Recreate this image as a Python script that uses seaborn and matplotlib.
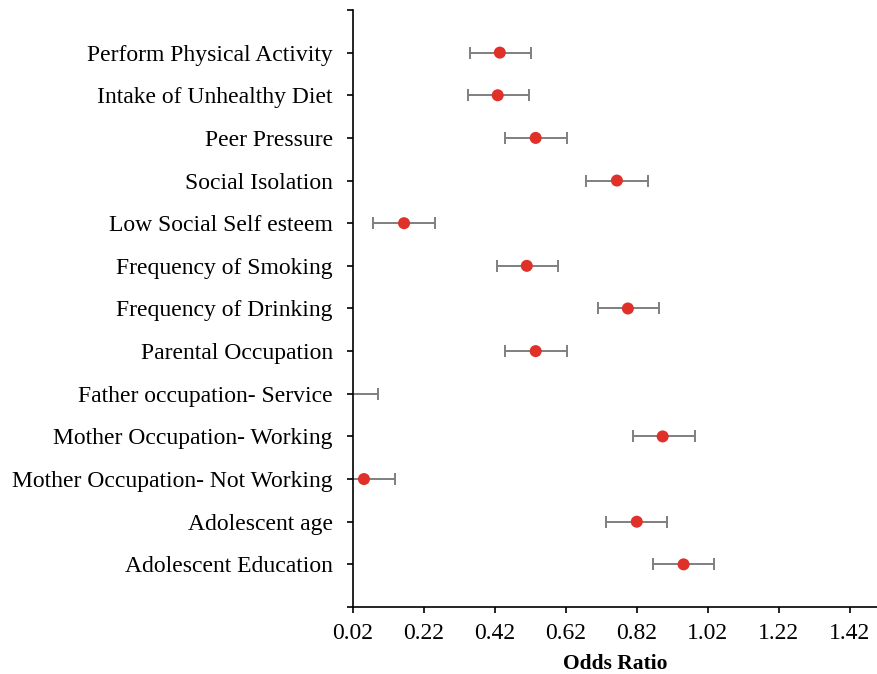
import matplotlib
matplotlib.use("Agg")
import matplotlib.pyplot as plt
import seaborn as sns
import pandas as pd

# Odds ratios with lower / upper confidence limits
factors = [
    "Perform Physical Activity",
    "Intake of Unhealthy Diet",
    "Peer Pressure",
    "Social Isolation",
    "Low Social Self esteem",
    "Frequency of Smoking",
    "Frequency of Drinking",
    "Parental Occupation",
    "Father occupation- Service",
    "Mother Occupation- Working",
    "Mother Occupation- Not Working",
    "Adolescent age",
    "Adolescent Education",
]
odds_ratio = [0.434, 0.428, 0.535, 0.764, 0.164, 0.510, 0.795, 0.535, 0.003, 0.893, 0.051, 0.820, 0.952]
ci_lower = [0.349, 0.343, 0.448, 0.676, 0.076, 0.426, 0.710, 0.448, -0.085, 0.808, -0.037, 0.733, 0.867]
ci_upper = [0.521, 0.516, 0.623, 0.851, 0.251, 0.597, 0.882, 0.623, 0.090, 0.983, 0.138, 0.906, 1.037]
x_ticks = [0.02, 0.22, 0.42, 0.62, 0.82, 1.02, 1.22, 1.42]

df = pd.DataFrame({"factor": factors, "or": odds_ratio, "lo": ci_lower, "hi": ci_upper})

sns.set_theme(style="white")
plt.rcParams["font.family"] = ["Liberation Serif", "DejaVu Serif"]

fig = plt.figure(figsize=(8.78, 6.74), dpi=100)
ax = fig.add_axes([0.402, 0.0994, 0.598, 0.8858])

pos = list(range(len(factors)))
ax.errorbar(
    df["or"], pos,
    xerr=[df["or"] - df["lo"], df["hi"] - df["or"]],
    fmt="none", ecolor="#7f7f7f", elinewidth=1.4, capsize=4.5, capthick=1.4, zorder=2,
)
sns.scatterplot(data=df, x="or", y="factor", ax=ax, color="#e0302a", s=75,
                edgecolor="none", zorder=3, legend=False)

ax.set_xlim(0.02, 1.5)
ax.set_ylim(len(factors), -1)
ax.set_xticks(x_ticks)
ax.set_xticklabels([f"{t:.2f}" for t in x_ticks])
ax.set_yticks(list(range(-1, len(factors) + 1)))
ax.set_yticklabels([""] + factors + [""])

for side in ("top", "right"):
    ax.spines[side].set_visible(False)
for side in ("left", "bottom"):
    ax.spines[side].set_color("black")
    ax.spines[side].set_linewidth(1.2)

ax.tick_params(axis="both", which="both", direction="out", length=4.5, width=1.2,
               color="black", labelsize=17, labelcolor="black")
ax.tick_params(axis="x", bottom=True, pad=7)
ax.tick_params(axis="y", left=True, pad=10)
ax.set_xlabel("Odds Ratio", fontsize=15.5, fontweight="bold", color="black", labelpad=7)
ax.set_ylabel("")
ax.grid(False)

fig.savefig("out.png", dpi=100)
